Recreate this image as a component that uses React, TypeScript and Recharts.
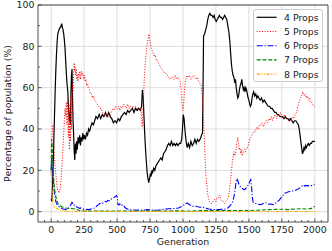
import { LineChart, Line, XAxis, YAxis, ReferenceLine } from "recharts";

// [generation, percentage]
const props4: [number, number][] = [
  [0, 6], [5, 5], [10, 12], [15, 22], [20, 34], [25, 46], [30, 58], [35, 68], [40, 76], [45, 82],
  [50, 86], [55, 87], [60, 88], [65, 89], [70, 89], [75, 90], [80, 91], [85, 89], [90, 88], [95, 86],
  [100, 83], [105, 79], [110, 73], [115, 67], [120, 62], [126, 58], [132, 50], [138, 44], [142, 48], [146, 42],
  [150, 58], [154, 66], [158, 69], [162, 55], [166, 44], [170, 38], [174, 30], [179, 25], [184, 33], [188, 28],
  [193, 34], [198, 30], [204, 36], [210, 33], [216, 37], [222, 32], [228, 36], [234, 34], [240, 38], [246, 35],
  [252, 37], [260, 35], [268, 38], [276, 37], [284, 40], [292, 39], [300, 41], [310, 43], [320, 42], [330, 44],
  [340, 46], [352, 45], [364, 47], [376, 45], [388, 47], [400, 46], [412, 48], [424, 46], [436, 48], [448, 46],
  [460, 45], [472, 43], [484, 44], [496, 43], [508, 45], [520, 44], [532, 46], [544, 47], [556, 48], [568, 47],
  [580, 49], [592, 48], [604, 49], [616, 50], [628, 48], [640, 50], [652, 49], [664, 50], [676, 49], [686, 51],
  [692, 59], [698, 55], [704, 46], [710, 37], [716, 30], [722, 24], [728, 19], [734, 16], [740, 14], [746, 16],
  [752, 18], [758, 17], [764, 20], [770, 19], [778, 21], [786, 20], [794, 22], [802, 23], [812, 24], [822, 25],
  [832, 26], [842, 25], [852, 28], [862, 29], [872, 30], [882, 32], [892, 33], [902, 32], [912, 34], [922, 32],
  [932, 33], [942, 32], [952, 33], [962, 32], [972, 33], [982, 33], [990, 35], [996, 40], [1002, 47], [1008, 45],
  [1014, 40], [1020, 36], [1026, 33], [1032, 31], [1040, 33], [1050, 31], [1060, 34], [1070, 32], [1080, 33], [1090, 35],
  [1100, 33], [1110, 35], [1120, 34], [1130, 35], [1140, 37], [1148, 38], [1152, 60], [1156, 85], [1164, 86], [1172, 88],
  [1180, 90], [1188, 93], [1196, 95], [1204, 96], [1212, 95], [1220, 95], [1228, 94], [1236, 95], [1244, 93], [1252, 92],
  [1260, 93], [1268, 94], [1276, 95], [1284, 94], [1292, 94], [1300, 93], [1308, 94], [1316, 95], [1324, 94], [1332, 93],
  [1340, 90], [1348, 87], [1356, 82], [1362, 76], [1368, 71], [1374, 68], [1380, 66], [1386, 65], [1392, 63], [1398, 64],
  [1404, 60], [1410, 57], [1416, 55], [1422, 56], [1428, 59], [1434, 61], [1440, 62], [1446, 64], [1452, 61], [1458, 59],
  [1464, 60], [1470, 58], [1476, 60], [1482, 59], [1488, 57], [1494, 55], [1500, 54], [1506, 52], [1512, 51], [1518, 52],
  [1524, 55], [1530, 57], [1536, 58], [1544, 56], [1552, 57], [1560, 55], [1568, 56], [1576, 55], [1586, 54], [1596, 55],
  [1606, 53], [1616, 54], [1626, 53], [1636, 52], [1646, 51], [1656, 51], [1666, 50], [1676, 50], [1686, 49], [1696, 48],
  [1706, 48], [1716, 47], [1726, 47], [1736, 46], [1746, 46], [1756, 46], [1766, 45], [1776, 46], [1786, 45], [1796, 45],
  [1806, 44], [1816, 45], [1826, 44], [1836, 43], [1846, 44], [1856, 44], [1866, 43], [1876, 42], [1884, 39], [1892, 35],
  [1900, 31], [1906, 28], [1912, 29], [1918, 31], [1924, 30], [1930, 32], [1936, 31], [1942, 32], [1950, 33], [1958, 32],
  [1966, 33], [1974, 33], [1982, 34], [1990, 34], [2000, 34],
];

const props5: [number, number][] = [
  [0, 18], [4, 28], [8, 38], [12, 42], [16, 38], [20, 32], [25, 26], [30, 22], [35, 18], [40, 15],
  [45, 12], [50, 10], [55, 10], [60, 9], [65, 10], [70, 12], [75, 16], [80, 20], [85, 26], [90, 32],
  [95, 38], [100, 44], [105, 50], [110, 46], [115, 53], [120, 42], [125, 55], [130, 36], [134, 52], [138, 30],
  [142, 50], [146, 34], [150, 56], [154, 40], [158, 48], [162, 62], [166, 58], [170, 66], [174, 72], [178, 68],
  [182, 70], [186, 66], [190, 69], [194, 64], [198, 66], [202, 63], [206, 67], [210, 65], [216, 68], [222, 64],
  [228, 68], [234, 66], [240, 67], [246, 64], [252, 66], [258, 63], [264, 64], [270, 61], [276, 62], [282, 60],
  [290, 59], [298, 57], [306, 57], [314, 55], [322, 56], [330, 54], [340, 53], [350, 52], [360, 51], [370, 50],
  [380, 50], [390, 48], [400, 47], [410, 47], [420, 46], [430, 47], [440, 46], [450, 47], [460, 49], [470, 50],
  [480, 49], [490, 51], [500, 50], [510, 51], [520, 49], [530, 51], [540, 50], [550, 52], [560, 51], [570, 50],
  [580, 52], [590, 50], [600, 51], [610, 49], [620, 51], [630, 50], [640, 51], [650, 50], [660, 50], [670, 49],
  [680, 50], [686, 46], [690, 41], [694, 45], [698, 52], [702, 58], [706, 64], [712, 70], [718, 75], [724, 79],
  [730, 82], [736, 84], [742, 86], [748, 83], [754, 81], [760, 79], [766, 78], [774, 77], [782, 75], [790, 76],
  [798, 73], [806, 73], [814, 72], [822, 71], [830, 70], [840, 69], [850, 68], [860, 67], [870, 67], [880, 66],
  [890, 65], [900, 64], [910, 65], [920, 65], [930, 64], [940, 66], [950, 64], [960, 65], [970, 64], [978, 63],
  [984, 60], [988, 56], [992, 52], [996, 50], [1000, 49], [1004, 51], [1010, 57], [1016, 62], [1022, 64], [1030, 66],
  [1040, 65], [1050, 66], [1060, 64], [1070, 65], [1080, 66], [1090, 65], [1100, 64], [1110, 65], [1120, 63], [1130, 62],
  [1138, 61], [1144, 58], [1150, 52], [1156, 44], [1162, 35], [1168, 25], [1174, 18], [1180, 13], [1186, 9], [1192, 7],
  [1200, 5], [1210, 4], [1220, 4], [1230, 5], [1240, 6], [1250, 5], [1260, 7], [1270, 7], [1278, 8], [1286, 6],
  [1296, 5], [1306, 5], [1316, 4], [1326, 5], [1336, 6], [1344, 7], [1350, 9], [1356, 12], [1362, 16], [1368, 20],
  [1374, 24], [1380, 26], [1386, 29], [1392, 27], [1398, 28], [1404, 31], [1410, 34], [1416, 36], [1420, 33], [1426, 30],
  [1432, 31], [1438, 28], [1444, 30], [1450, 27], [1458, 29], [1466, 30], [1474, 29], [1482, 31], [1490, 31], [1498, 33],
  [1506, 35], [1514, 36], [1522, 37], [1530, 38], [1540, 39], [1550, 39], [1560, 41], [1570, 40], [1580, 42], [1590, 42],
  [1600, 43], [1610, 41], [1620, 43], [1630, 44], [1640, 43], [1650, 45], [1660, 44], [1670, 46], [1680, 44], [1690, 46],
  [1700, 47], [1710, 45], [1720, 47], [1730, 46], [1740, 48], [1750, 46], [1760, 45], [1770, 47], [1780, 46], [1790, 45],
  [1800, 44], [1810, 45], [1820, 44], [1830, 46], [1840, 45], [1850, 47], [1860, 48], [1868, 50], [1876, 52], [1884, 54],
  [1892, 55], [1900, 56], [1908, 58], [1914, 57], [1920, 56], [1928, 57], [1936, 55], [1944, 56], [1952, 54], [1960, 55],
  [1968, 53], [1976, 53], [1984, 52], [1992, 51], [2000, 51],
];

const props6: [number, number][] = [
  [0, 20], [4, 26], [8, 24], [12, 20], [16, 16], [20, 12], [25, 9], [30, 7], [35, 5], [40, 4],
  [45, 3.4], [50, 3], [60, 2.4], [70, 2], [80, 1.6], [90, 1.3], [100, 1.2], [110, 1], [120, 1.2], [130, 1.5],
  [140, 2.4], [150, 3.5], [158, 4.5], [164, 4], [170, 3], [178, 3.2], [186, 2.6], [194, 2.2], [204, 2], [214, 1.6],
  [224, 1.8], [237, 1.4], [250, 1.2], [262, 1], [275, 1.1], [287, 1], [300, 1.3], [315, 1.5], [330, 1.8], [342, 2.5],
  [354, 3.2], [366, 3.8], [378, 4.2], [390, 4], [400, 4.6], [410, 5], [420, 4.8], [430, 5.5], [440, 5.2], [450, 6],
  [460, 6.3], [470, 6.5], [480, 7], [488, 7.4], [496, 7.8], [502, 7], [506, 3.5], [512, 3.2], [520, 3.8], [530, 2.8],
  [540, 3.3], [551, 3], [560, 2], [570, 1.5], [589, 1], [610, 0.9], [630, 0.8], [650, 0.7], [670, 0.9], [690, 0.7],
  [710, 0.8], [730, 1], [750, 0.9], [770, 0.8], [790, 0.7], [815, 0.8], [840, 1], [865, 1.2], [891, 1.4], [915, 1.5],
  [940, 1.6], [966, 1.8], [985, 2.4], [1000, 3], [1015, 3.6], [1030, 4.2], [1045, 3.6], [1060, 3], [1075, 2.6], [1090, 2.8],
  [1110, 2.4], [1132, 2.2], [1150, 2.1], [1170, 1.8], [1195, 1.3], [1220, 1.1], [1245, 1], [1270, 1], [1295, 1.2], [1321, 1.3],
  [1340, 1.8], [1358, 2.9], [1374, 4.5], [1386, 7], [1396, 11], [1404, 15], [1410, 16], [1418, 14.5], [1426, 13], [1436, 12],
  [1446, 11.4], [1456, 11], [1466, 10.6], [1476, 11.2], [1486, 12], [1496, 13], [1506, 14.5], [1514, 15.5], [1520, 12], [1526, 7],
  [1532, 4.5], [1545, 4], [1560, 3.8], [1575, 3.5], [1590, 3.4], [1605, 3.8], [1620, 4.4], [1635, 4.2], [1650, 3.6], [1665, 3.7],
  [1686, 3.4], [1700, 4], [1715, 4.8], [1730, 5.6], [1745, 6.8], [1760, 8], [1774, 9], [1788, 9.3], [1800, 9.6], [1812, 9.8],
  [1825, 10], [1840, 10.2], [1855, 10.4], [1870, 10.8], [1885, 11.5], [1900, 12.3], [1912, 13], [1924, 12.4], [1936, 12.7], [1950, 12.5],
  [1962, 12.8], [1975, 12.6], [1987, 13], [2000, 13],
];

const props7: [number, number][] = [
  [0, 20], [3, 35], [6, 33], [10, 28], [14, 22], [18, 17], [22, 13], [26, 11], [30, 9], [35, 7.5],
  [40, 6], [45, 5], [55, 3.5], [65, 3], [80, 2.4], [95, 2], [110, 1.8], [130, 1.6], [150, 1.5], [170, 1.4],
  [185, 1.3], [200, 0.9], [215, 0.6], [240, 0.4], [280, 0.3], [350, 0.3], [450, 0.3], [550, 0.3], [650, 0.3], [750, 0.4],
  [850, 0.3], [950, 0.4], [1050, 0.3], [1150, 0.5], [1250, 0.5], [1350, 0.6], [1450, 0.6], [1500, 0.5], [1550, 0.7], [1600, 0.8],
  [1650, 1], [1700, 1.1], [1750, 1.2], [1800, 1], [1850, 1.3], [1900, 1.4], [1950, 1.3], [1975, 1.6], [1990, 2.3], [2000, 2.6],
];

const props8: [number, number][] = [
  [0, 20], [3, 16], [6, 11], [10, 7], [14, 4.5], [18, 3.2], [24, 2.4], [30, 2], [40, 1.6], [50, 1.3],
  [60, 1], [75, 0.7], [90, 0.5], [110, 0.3], [140, 0.2], [200, 0.15], [400, 0.1], [800, 0.1], [1200, 0.1], [1600, 0.1],
  [2000, 0.1],
];

const xMajor = [0, 250, 500, 750, 1000, 1250, 1500, 1750, 2000];
const xAll = Array.from({ length: 43 }, (_, i) => -50 + i * 50);
const yMajor = [0, 20, 40, 60, 80, 100];
const yAll = [0, 10, 20, 30, 40, 50, 60, 70, 80, 90, 100];
const X_DOMAIN: [number, number] = [-100, 2100];
const Y_DOMAIN: [number, number] = [-5, 100];

const series = [
  { name: "4 Props", data: props4, color: "#000000", width: 1.2, dash: undefined as string | undefined },
  { name: "5 Props", data: props5, color: "#ff0000", width: 1, dash: "1 1.65" },
  { name: "6 Props", data: props6, color: "#0000ff", width: 1.1, dash: "6 1.8 1.2 1.8" },
  { name: "7 Props", data: props7, color: "#008000", width: 1.1, dash: "4 1.8" },
  { name: "8 Props", data: props8, color: "#ffa500", width: 1.1, dash: "3.5 1.3 1.1 1.3 1.1 1.3" },
];

const FONT = "DejaVu Sans";
const TXT = "#1a1a1a";
const SPINE = "#222";
const GRID = "#d4d4d4";

const BottomTick = (p: any) => {
  const v = p.payload.value;
  const major = xMajor.includes(v);
  return (
    <g>
      <line x1={p.x} x2={p.x} y1={p.y} y2={p.y - (major ? 3.5 : 2)} stroke={SPINE} strokeWidth={0.7} />
      {major && (
        <text x={p.x} y={p.y + 11} textAnchor="middle" fontSize={9.4} fontFamily={FONT} fill={TXT}>
          {v}
        </text>
      )}
    </g>
  );
};

const TopTick = (p: any) => {
  const major = xMajor.includes(p.payload.value);
  return <line x1={p.x} x2={p.x} y1={p.y} y2={p.y + (major ? 3.5 : 2)} stroke={SPINE} strokeWidth={0.7} />;
};

const LeftTick = (p: any) => {
  const v = p.payload.value;
  const major = yMajor.includes(v);
  return (
    <g>
      <line x1={p.x} x2={p.x + (major ? 3.5 : 2)} y1={p.y} y2={p.y} stroke={SPINE} strokeWidth={0.7} />
      {major && (
        <text x={p.x - 3.5} y={p.y + 3.4} textAnchor="end" fontSize={9.4} fontFamily={FONT} fill={TXT}>
          {v}
        </text>
      )}
    </g>
  );
};

const RightTick = (p: any) => {
  const major = yMajor.includes(p.payload.value);
  return <line x1={p.x} x2={p.x - (major ? 3.5 : 2)} y1={p.y} y2={p.y} stroke={SPINE} strokeWidth={0.7} />;
};

const XTitle = (p: any) => {
  const vb = p.viewBox;
  return (
    <text x={vb.x + vb.width / 2} y={vb.y + vb.height - 6} textAnchor="middle" fontSize={9.4} fontFamily={FONT} fill={TXT}>
      Generation
    </text>
  );
};

const YTitle = (p: any) => {
  const vb = p.viewBox;
  const cx = vb.x + 10.5;
  const cy = vb.y + vb.height / 2;
  return (
    <text x={cx} y={cy} transform={`rotate(-90 ${cx} ${cy})`} textAnchor="middle" fontSize={9.4} fontFamily={FONT} fill={TXT}>
      Percentage of population (%)
    </text>
  );
};

export default function App() {
  return (
    <div style={{ position: "absolute", left: 0, top: 0, width: 332, height: 251, background: "#fff" }}>
      <LineChart width={332} height={251} margin={{ top: 0, right: 0, bottom: 0, left: 0 }}>
        <XAxis
          xAxisId="b"
          type="number"
          dataKey="gen"
          domain={X_DOMAIN}
          ticks={xAll}
          interval={0}
          height={29}
          tickSize={0}
          tickMargin={0}
          tickLine={false}
          axisLine={{ stroke: SPINE, strokeWidth: 0.8 }}
          tick={BottomTick}
          label={{ value: "Generation", content: XTitle }}
        />
        <XAxis
          xAxisId="t"
          orientation="top"
          type="number"
          domain={X_DOMAIN}
          ticks={xAll}
          interval={0}
          height={5}
          tickSize={0}
          tickMargin={0}
          tickLine={false}
          axisLine={{ stroke: SPINE, strokeWidth: 0.8 }}
          tick={TopTick}
        />
        <YAxis
          yAxisId="l"
          type="number"
          domain={Y_DOMAIN}
          ticks={yAll}
          interval={0}
          width={38}
          tickSize={0}
          tickMargin={0}
          tickLine={false}
          axisLine={{ stroke: SPINE, strokeWidth: 0.8 }}
          tick={LeftTick}
          label={{ value: "Percentage of population (%)", content: YTitle }}
        />
        <YAxis
          yAxisId="r"
          orientation="right"
          type="number"
          domain={Y_DOMAIN}
          ticks={yAll}
          interval={0}
          width={4}
          tickSize={0}
          tickMargin={0}
          tickLine={false}
          axisLine={{ stroke: SPINE, strokeWidth: 0.8 }}
          tick={RightTick}
        />
        {xMajor.map((v) => (
          <ReferenceLine key={`gx${v}`} xAxisId="b" yAxisId="l" x={v} stroke={GRID} strokeWidth={0.8} />
        ))}
        {yMajor.map((v) => (
          <ReferenceLine key={`gy${v}`} xAxisId="b" yAxisId="l" y={v} stroke={GRID} strokeWidth={0.8} />
        ))}
        {series.map((s) => (
          <Line
            key={s.name}
            xAxisId="b"
            yAxisId="l"
            data={s.data.map(([gen, pct]) => ({ gen, pct }))}
            dataKey="pct"
            name={s.name}
            type="linear"
            stroke={s.color}
            strokeWidth={s.width}
            strokeDasharray={s.dash}
            dot={false}
            activeDot={false}
            isAnimationActive={false}
          />
        ))}
      </LineChart>
      <svg width={70} height={73} style={{ position: "absolute", left: 253, top: 9 }}>
        <rect x={0.5} y={0.5} width={69} height={72} rx={2.5} fill="rgba(255,255,255,0.85)" stroke="#cccccc" strokeWidth={1} />
        {series.map((s, i) => {
          const cy = 8.3 + i * 14.2;
          return (
            <g key={s.name}>
              <line x1={3.7} x2={23.7} y1={cy} y2={cy} stroke={s.color} strokeWidth={s.width} strokeDasharray={s.dash} />
              <text x={31} y={cy + 3.4} fontSize={9.4} fontFamily={FONT} fill={TXT}>
                {s.name}
              </text>
            </g>
          );
        })}
      </svg>
    </div>
  );
}
